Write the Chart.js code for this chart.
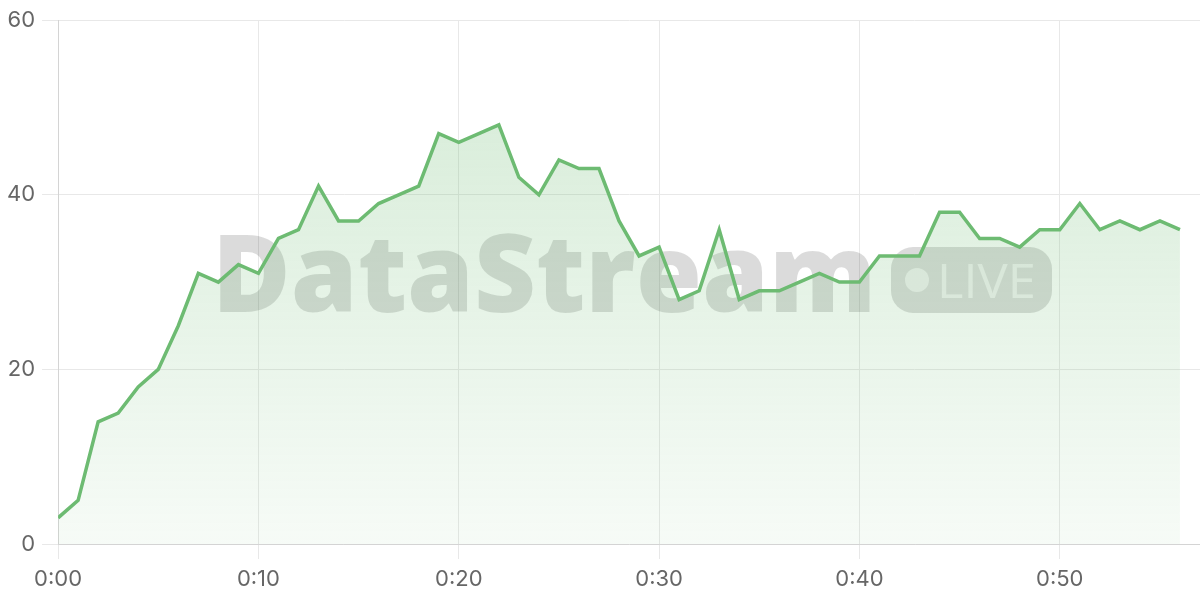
<!DOCTYPE html>
<html>
<head>
<meta charset="utf-8">
<script src="https://cdn.jsdelivr.net/npm/chart.js@4.4.1/dist/chart.umd.min.js"></script>
<style>
  html, body { margin: 0; padding: 0; background: #fff; }
  #wrap { width: 1200px; height: 600px; position: relative; }
</style>
</head>
<body>
<div id="wrap"><canvas id="chart"></canvas></div>
<script>
// minutes since start, one reading per minute
var minutes = [];
for (var m = 0; m <= 56; m++) minutes.push(m);

var viewers = [3, 5, 14, 15, 18, 20, 25, 31, 30, 32,
               31, 35, 36, 41, 37, 37, 39, 40, 41, 47,
               46, 47, 48, 42, 40, 44, 43, 43, 37, 33,
               34, 28, 29, 36, 28, 29, 29, 30, 31, 30,
               30, 33, 33, 33, 38, 38, 35, 35, 34, 36,
               36, 39, 36, 37, 36, 37, 36];

var yTicks = [0, 20, 40, 60];

function fmtMinute(v) {
    var mm = Math.round(v);
    return Math.floor(mm / 60) + ':' + String(mm % 60).padStart(2, '0');
}

var watermark = {
    id: 'watermark',
    beforeDatasetsDraw: function(chart) {
        var ctx = chart.ctx;
        ctx.save();
        // big wordmark
        var targetW = 658;
        ctx.font = '800 100px "Open Sans"';
        var w = ctx.measureText('DataStream').actualBoundingBoxRight;
        var size = 100 * targetW / w;
        ctx.font = '800 ' + size + 'px "Open Sans"';
        ctx.fillStyle = 'rgba(0,0,0,0.14)';
        ctx.textBaseline = 'alphabetic';
        ctx.fillText('DataStream', 212, 312);

        // LIVE pill
        ctx.beginPath();
        ctx.roundRect(891, 247, 161, 66, 22);
        ctx.fill();
        ctx.fillStyle = 'rgba(255,255,255,0.6)';
        ctx.beginPath();
        ctx.arc(917, 280, 12, 0, Math.PI * 2);
        ctx.fill();
        ctx.font = '400 48px "Open Sans"';
        var lw = ctx.measureText('LIVE').actualBoundingBoxRight;
        ctx.save();
        ctx.translate(937, 298);
        ctx.scale(96 / lw, 1);
        ctx.fillText('LIVE', 0, 0);
        ctx.restore();
        ctx.restore();
    }
};

var ctx = document.getElementById('chart');
new Chart(ctx, {
    type: 'line',
    data: {
        labels: minutes,
        datasets: [{
            label: 'Viewers',
            data: viewers.map(function(v, i) { return { x: minutes[i], y: v }; }),
            borderColor: '#6dbb72',
            borderWidth: 3.5,
            pointRadius: 0,
            tension: 0,
            fill: 'origin',
            backgroundColor: function(context) {
                var c = context.chart;
                var area = c.chartArea;
                if (!area) return 'rgba(109,187,114,0.15)';
                var g = c.ctx.createLinearGradient(0, area.top, 0, area.bottom);
                g.addColorStop(0, 'rgba(109,187,114,0.30)');
                g.addColorStop(1, 'rgba(109,187,114,0.06)');
                return g;
            }
        }]
    },
    options: {
        responsive: true,
        maintainAspectRatio: false,
        animation: false,
        layout: { padding: { top: 7, right: 0, left: 0, bottom: 1 } },
        plugins: {
            legend: { display: false },
            tooltip: { enabled: false }
        },
        scales: {
            x: {
                type: 'linear',
                min: 0,
                max: 57,
                ticks: {
                    stepSize: 10,
                    color: '#666',
                    font: { family: 'Inter', size: 22, lineHeight: 1 },
                    padding: 9,
                    maxRotation: 0,
                    callback: function(v) { return v % 10 === 0 ? fmtMinute(v) : null; }
                },
                grid: { color: '#e8e8e8', tickLength: 15 },
                border: { color: '#d4d4d4' }
            },
            y: {
                min: 0,
                max: 60,
                afterBuildTicks: function(axis) {
                    axis.ticks = yTicks.map(function(v) { return { value: v }; });
                },
                ticks: {
                    color: '#666',
                    font: { family: 'Inter', size: 22 },
                    padding: 7
                },
                grid: { color: '#e8e8e8', tickLength: 16 },
                border: { color: '#d4d4d4' }
            }
        }
    },
    plugins: [watermark]
});
</script>
</body>
</html>
